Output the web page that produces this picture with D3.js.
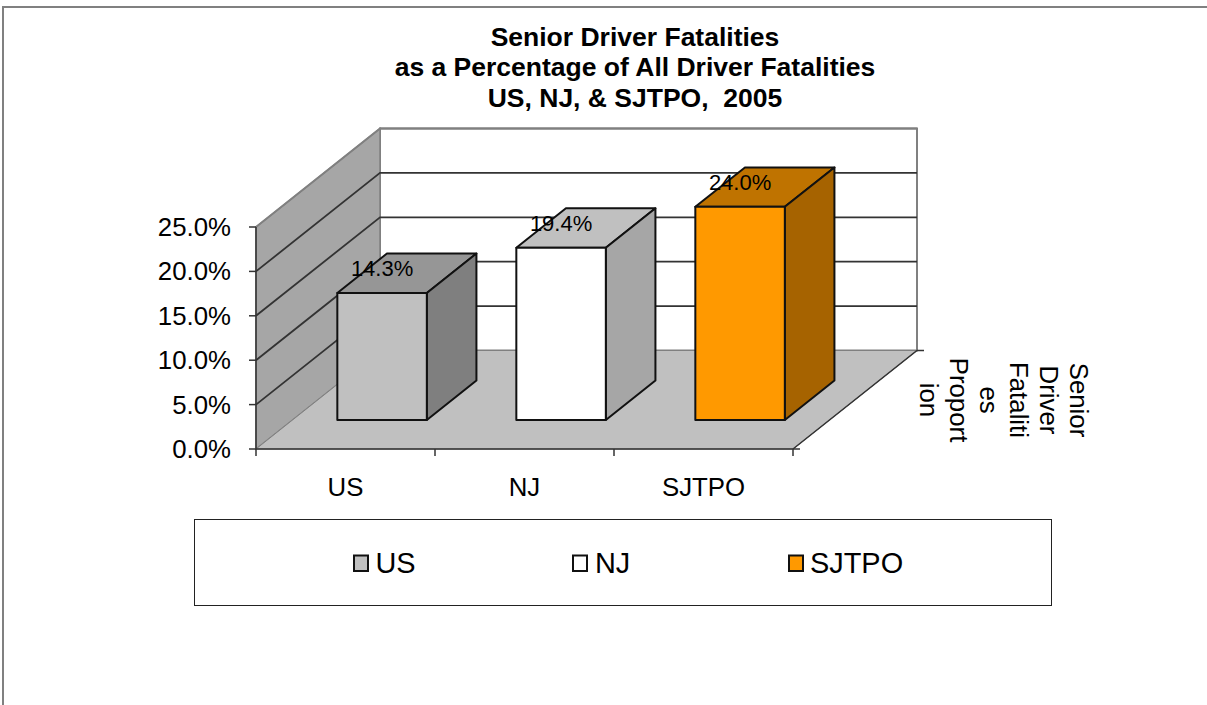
<!DOCTYPE html>
<html><head><meta charset="utf-8">
<script src="https://cdnjs.cloudflare.com/ajax/libs/d3/7.8.5/d3.min.js"></script>
<style>html,body{margin:0;padding:0;background:#fff}svg{display:block}text{font-family:"Liberation Sans",Arial,sans-serif;fill:#000;white-space:pre}</style>
</head><body><svg id="c" width="1207" height="705"></svg>
<script>
const categories = ["US", "NJ", "SJTPO"];
const values = [14.3, 19.4, 24.0];
const valueLabels = ["14.3%", "19.4%", "24.0%"];
const yTicks = [0, 5, 10, 15, 20, 25];
const titleLines = ["Senior Driver Fatalities", "as a Percentage of All Driver Fatalities", "US, NJ, & SJTPO,  2005"];
const seriesNameLines = ["Senior", "Driver", "Fataliti", "es", "Proport", "ion"];
const faceColors = ["#c0c0c0", "#ffffff", "#ff9900"];
const topColors = ["#969696", "#c0c0c0", "#bf7300"];
const sideColors = ["#7f7f7f", "#a6a6a6", "#a66300"];

const svg = d3.select("#c");
const x = d3.scaleBand().domain(categories).range([256, 793]).paddingInner(0.5).paddingOuter(0.25);
const xEdge = d3.scaleLinear().domain([0, 3]).range([256, 793]);
const y = d3.scaleLinear().domain([0, 25]).range([449, 227]);
const zx = d3.scaleLinear().domain([0, 1]).range([0, 124]);
const zy = d3.scaleLinear().domain([0, 1]).range([0, -98.5]);
const P = (px, v, z) => [px + zx(z), y(v) + zy(z)];
const poly = pts => "M" + pts.map(p => p.join(",")).join("L") + "Z";
const seg = pts => "M" + pts.map(p => p.join(",")).join("L");
const x0 = 256, x1 = 793;

svg.append("path").attr("d", "M3,705V7H1207").attr("fill", "none").attr("stroke", "#808080").attr("stroke-width", 2);

// walls and floor
svg.append("path").attr("d", poly([P(x0,0,1), P(x1,0,1), P(x1,25,1), P(x0,25,1)])).attr("fill", "#fff").attr("stroke", "#808080").attr("stroke-width", 2);
svg.append("path").attr("d", poly([P(x0,0,0), P(x0,0,1), P(x0,25,1), P(x0,25,0)])).attr("fill", "#a6a6a6").attr("stroke", "#808080").attr("stroke-width", 1.5);
svg.append("path").attr("d", poly([P(x0,0,0), P(x1,0,0), P(x1,0,1), P(x0,0,1)])).attr("fill", "#c0c0c0").attr("stroke", "#808080").attr("stroke-width", 1);

// gridlines
yTicks.filter(d => d > 0).forEach(d => {
  svg.append("path").attr("d", seg([P(x0,d,0), P(x0,d,1), P(x1,d,1)])).attr("fill", "none")
    .attr("stroke", d === 25 ? "#808080" : "#333").attr("stroke-width", d === 25 ? 2 : 1.8);
});

// axes
const ax = svg.append("g").attr("fill", "none").attr("stroke", "#333").attr("stroke-width", 1.5);
ax.append("path").attr("d", seg([[x0, y(25)], [x0, y(0)], [x1, y(0)]]));
yTicks.forEach(d => ax.append("path").attr("d", seg([[x0 - 7, y(d)], [x0, y(d)]])));
d3.range(4).forEach(i => ax.append("path").attr("d", seg([[xEdge(i), y(0)], [xEdge(i), y(0) + 7]])));
ax.append("path").attr("d", seg([[x1, y(0)], P(x1,0,1), [P(x1,0,1)[0] + 7, P(x1,0,1)[1]]]));
ax.append("path").attr("d", seg([[x1, y(0)], [x1 + 7, y(0)]]));

// bars
const zF = 0.295, zB = 0.695;
categories.forEach((c, i) => {
  const a = x(c), b = a + x.bandwidth(), v = values[i];
  const g = svg.append("g").attr("stroke", "#111").attr("stroke-width", 2).attr("stroke-linejoin", "round");
  g.append("path").attr("d", poly([P(a,v,zF), P(b,v,zF), P(b,v,zB), P(a,v,zB)])).attr("fill", topColors[i]);
  g.append("path").attr("d", poly([P(b,0,zF), P(b,0,zB), P(b,v,zB), P(b,v,zF)])).attr("fill", sideColors[i]);
  g.append("path").attr("d", poly([P(a,0,zF), P(b,0,zF), P(b,v,zF), P(a,v,zF)])).attr("fill", faceColors[i]);
  const lx = P(a + x.bandwidth() / 2, v, zF)[0];
  svg.append("text").attr("x", lx).attr("y", P(a, v, 0.5)[1] + 3.3).attr("text-anchor", "middle")
    .attr("font-size", 22).text(valueLabels[i]);
});

// axis labels
yTicks.forEach(d => svg.append("text").attr("x", 231).attr("y", y(d) + 9).attr("text-anchor", "end")
  .attr("font-size", 25.8).text(d3.format(".1f")(d) + "%"));
categories.forEach(c => svg.append("text").attr("x", x(c) + x.bandwidth() / 2).attr("y", 496)
  .attr("text-anchor", "middle").attr("font-size", 25.8).text(c));

// series name, rotated
seriesNameLines.forEach((t, i) => {
  svg.append("text").attr("transform", `translate(${1070 - i * 30},400) rotate(90)`)
    .attr("text-anchor", "middle").attr("font-size", 25.8).text(t);
});

// title
titleLines.forEach((t, i) => svg.append("text").attr("x", 635).attr("y", 45.7 + i * 30.5).attr("text-anchor", "middle")
  .attr("font-size", 26.5).attr("font-weight", "bold").text(t));

// legend
svg.append("rect").attr("x", 194.5).attr("y", 519.5).attr("width", 857).attr("height", 86).attr("fill", "#fff").attr("stroke", "#222").attr("stroke-width", 1);
const legendX = [354, 573, 789], legendText = [375.5, 595, 810];
categories.forEach((c, i) => {
  svg.append("rect").attr("x", legendX[i]).attr("y", 555.5).attr("width", 14).attr("height", 15.5).attr("fill", faceColors[i]).attr("stroke", "#111").attr("stroke-width", 2);
  svg.append("text").attr("x", legendText[i]).attr("y", 573).attr("font-size", 28.9).text(c);
});
</script></body></html>
